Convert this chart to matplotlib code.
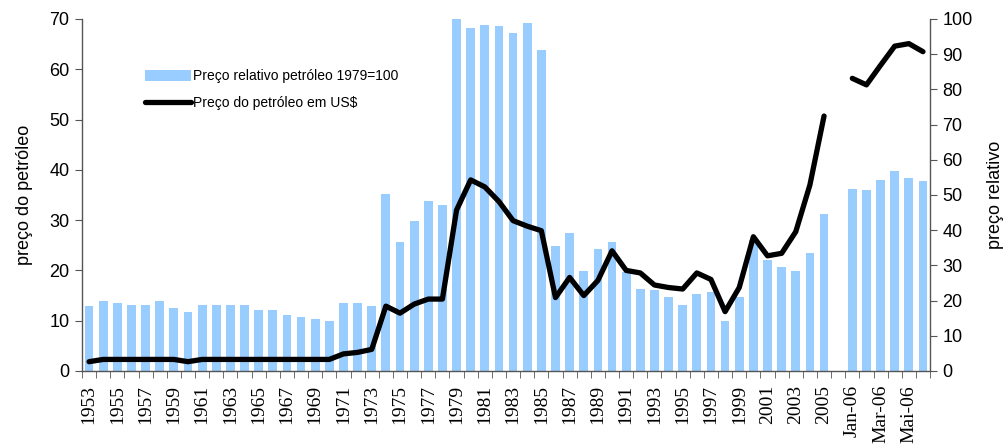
import numpy as np
import matplotlib
matplotlib.use("Agg")
import matplotlib.pyplot as plt
from matplotlib.patches import Patch
from matplotlib.lines import Line2D

# categorias: anos 1953-2005, um espaço vazio, depois meses de 2006
anos = [str(a) for a in range(1953, 2006)]
meses = ["Jan-06", "Fev-06", "Mar-06", "Abr-06", "Mai-06", "Jun-06"]
categorias = anos + [""] + meses

# preço relativo (1979=100), eixo da direita
preco_relativo = [18.5, 19.9, 19.3, 18.8, 18.8, 19.9, 17.9, 16.8, 18.8, 18.8,
                  18.8, 18.8, 17.3, 17.3, 15.9, 15.3, 14.8, 14.2, 19.3, 19.3,
                  18.5, 50.3, 36.6, 42.6, 48.3, 47.2, 100.0, 97.4, 98.3, 98.0,
                  96.0, 98.9, 91.2, 35.5, 39.2, 28.4, 34.7, 36.6, 28.1, 23.3,
                  23.0, 21.0, 18.8, 21.9, 22.4, 14.2, 21.0, 37.2, 31.5, 29.5,
                  28.4, 33.5, 44.6,
                  np.nan,
                  51.7, 51.4, 54.3, 56.8, 54.8, 54.0]

# preço do petróleo em US$, eixo da esquerda
preco_usd = [1.85, 2.3, 2.3, 2.3, 2.3, 2.3, 2.3, 1.85, 2.3, 2.3,
             2.3, 2.3, 2.3, 2.3, 2.3, 2.3, 2.3, 2.3, 3.4, 3.7,
             4.3, 12.9, 11.5, 13.3, 14.3, 14.3, 32.0, 38.0, 36.6, 33.7,
             29.9, 28.8, 27.9, 14.6, 18.6, 15.0, 18.0, 23.9, 20.0, 19.5,
             17.1, 16.6, 16.3, 19.5, 18.2, 11.8, 16.6, 26.7, 22.9, 23.4,
             27.7, 37.0, 50.7,
             np.nan,
             58.2, 56.9, 60.8, 64.6, 65.1, 63.5]

x = np.arange(len(categorias))

fig = plt.figure(figsize=(10.06, 4.48), dpi=100)
ax = fig.add_subplot(111)
fig.subplots_adjust(left=0.0815, right=0.9245, top=0.9576, bottom=0.1719)
ax2 = ax.twinx()

cor_barra = "#99CCFF"
ax2.bar(x, preco_relativo, width=0.62, color=cor_barra, zorder=1)
ax.plot(x, preco_usd, color="black", lw=3.8, solid_capstyle="round",
        solid_joinstyle="round", zorder=3)

ax.set_zorder(ax2.get_zorder() + 1)
ax.patch.set_visible(False)

ax.set_xlim(-0.5, len(categorias) - 0.5)
ax.set_ylim(0, 70)
ax2.set_ylim(0, 100)
ax.set_yticks(range(0, 71, 10))
ax2.set_yticks(range(0, 101, 10))

sans = "Liberation Sans"
serif = "Liberation Serif"
cinza = "#555555"

for a in (ax, ax2):
    a.spines["top"].set_visible(False)
    for s in ("left", "right", "bottom"):
        a.spines[s].set_color(cinza)
        a.spines[s].set_linewidth(1.0)
ax.spines["right"].set_visible(False)
ax2.spines["left"].set_visible(False)
ax2.spines["bottom"].set_visible(False)

ax.tick_params(axis="y", direction="out", length=5, color=cinza, pad=4)
ax2.tick_params(axis="y", direction="out", length=5, color=cinza, pad=4)
for lab in ax.get_yticklabels() + ax2.get_yticklabels():
    lab.set_fontfamily(sans)
    lab.set_fontsize(13)

# rótulos do eixo x a cada duas categorias, traços nas fronteiras
ax.set_xticks(x[::2])
ax.set_xticklabels(categorias[::2], rotation=90, fontfamily=serif, fontsize=14)
ax.set_xticks(np.arange(-0.5, len(categorias), 1.0), minor=True)
ax.tick_params(axis="x", which="major", length=0, pad=10)
ax.tick_params(axis="x", which="minor", direction="out", length=5, color=cinza)

ax.set_ylabel("preço do petróleo", fontfamily=sans, fontsize=13, labelpad=12)
ax2.set_ylabel("preço relativo", fontfamily=sans, fontsize=13, labelpad=10)

handles = [Patch(facecolor=cor_barra, edgecolor="none"),
           Line2D([0], [0], color="black", lw=3.8, solid_capstyle="round")]
labels = ["Preço relativo petróleo 1979=100", "Preço do petróleo em US$"]
ax.legend(handles, labels, loc="upper left", bbox_to_anchor=(0.074, 0.857),
          frameon=False, prop={"family": sans, "size": 10},
          handlelength=3.3, handleheight=0.9, handletextpad=0.2,
          labelspacing=0.9, borderpad=0, borderaxespad=0)

fig.savefig("out.png", dpi=100)
